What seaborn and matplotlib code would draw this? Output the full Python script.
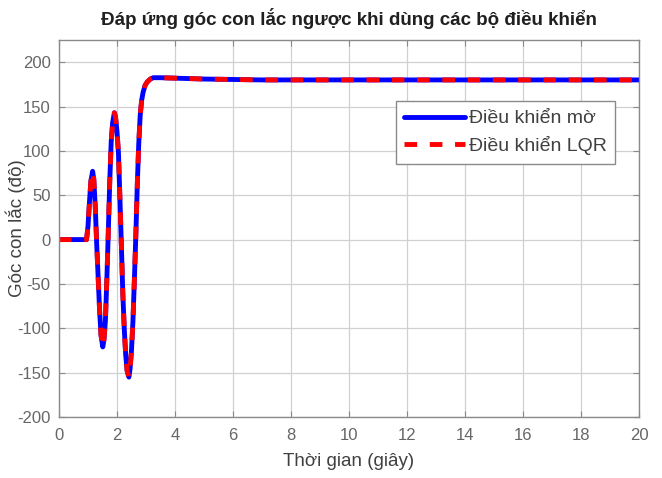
import numpy as np
import pandas as pd
import matplotlib
matplotlib.use("Agg")
import matplotlib.pyplot as plt
import seaborn as sns

# Pendulum angle response (degrees) over time (seconds)
time_s = [0.0, 0.5, 0.95, 1.0, 1.05, 1.1, 1.16, 1.2, 1.25, 1.3, 1.35, 1.4, 1.45,
          1.51, 1.55, 1.6, 1.65, 1.7, 1.75, 1.8, 1.85, 1.91, 1.95, 2.0, 2.05,
          2.1, 2.15, 2.2, 2.25, 2.3, 2.35, 2.41, 2.45, 2.5, 2.55, 2.6, 2.65,
          2.7, 2.75, 2.8, 2.85, 2.9, 2.97, 3.05, 3.15, 3.25, 3.5, 4.0, 4.5,
          5.0, 6.0, 7.0, 10.0, 15.0, 20.0]
angle_fuzzy = [0, 0, 0, 15, 42, 66, 77, 68, 38, -5, -42, -80, -108,
               -121, -113, -92, -45, 8, 65, 110, 132, 143, 138, 122, 98,
               48, -5, -60, -100, -130, -148, -155, -146, -125, -92, -45, 5,
               62, 108, 140, 157, 166, 174, 178, 181, 182.5, 182.5, 182, 181.5,
               181, 180.5, 180, 180, 180, 180]
angle_lqr = [0, 0, 0, 15, 42, 66, 77, 68, 38, -5, -42, -80, -108,
             -121, -113, -92, -45, 8, 65, 110, 132, 143, 138, 122, 98,
             48, -5, -60, -100, -130, -148, -155, -146, -125, -92, -45, 5,
             62, 108, 140, 157, 166, 174, 178, 181, 182.5, 182.5, 182, 181.5,
             181, 180.5, 180, 180, 180, 180]

x_ticks = list(range(0, 21, 2))
y_ticks = list(range(-200, 201, 50))

df = pd.DataFrame({"t": time_s, "fuzzy": angle_fuzzy, "lqr": angle_lqr})

sns.set_style("white")
plt.rcParams["font.family"] = ["Liberation Sans", "DejaVu Sans"]
plt.rcParams["axes.unicode_minus"] = False

text_col = "#404040"
fig = plt.figure(figsize=(6.62, 4.78), dpi=100)
ax = fig.add_axes([0.0891, 0.1276, 0.8762, 0.7887])

sns.lineplot(data=df, x="t", y="fuzzy", ax=ax, color="#0000ff", lw=3.5,
             label="Điều khiển mờ", sort=False)
sns.lineplot(data=df, x="t", y="lqr", ax=ax, color="#ff0000", lw=3.5,
             linestyle=(0, (2.6, 2.6)), label="Điều khiển LQR", sort=False)

ax.set_xlim(0, 20)
ax.set_ylim(-200, 225)
ax.set_xticks(x_ticks)
ax.set_yticks(y_ticks)
ax.grid(True, color="#d0d0d0", lw=0.9)
ax.set_axisbelow(True)
for s in ax.spines.values():
    s.set_color("#8a8a8a")
    s.set_linewidth(1.0)
ax.tick_params(direction="in", length=4, width=0.8, color="#8a8a8a",
               labelsize=12, labelcolor="#666666", top=True, right=True,
               bottom=True, left=True)
ax.tick_params(axis="x", pad=8)
ax.tick_params(axis="y", pad=6)

ax.set_xlabel("Thời gian (giây)", fontsize=13.5, color=text_col)
ax.set_ylabel("Góc con lắc (độ)", fontsize=13.5, color=text_col)
ax.xaxis.set_label_coords(0.5, -0.096)
ax.yaxis.set_label_coords(-0.057, 0.5)
ax.set_title("Đáp ứng góc con lắc ngược khi dùng các bộ điều khiển",
             fontsize=13.5, fontweight="bold", color="#202020", pad=11)

leg = ax.legend(loc="upper right", bbox_to_anchor=(0.959, 0.838),
                fontsize=14, handlelength=3.1, handletextpad=0.2,
                borderpad=0.45, labelspacing=0.45, fancybox=False,
                framealpha=1, edgecolor="#8a8a8a", borderaxespad=0)
for t in leg.get_texts():
    t.set_color(text_col)
leg.get_frame().set_linewidth(1.0)

fig.savefig("out.png", dpi=100)
